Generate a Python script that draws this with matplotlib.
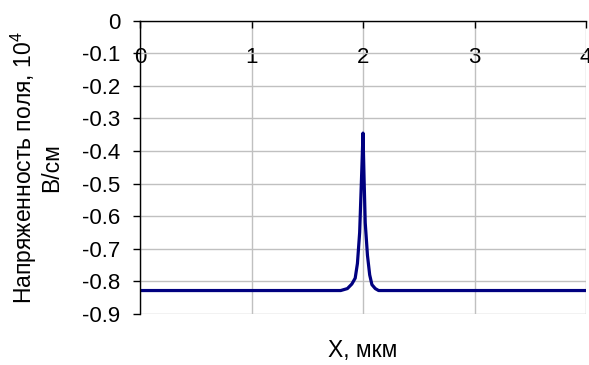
import matplotlib
matplotlib.use("Agg")
import matplotlib.pyplot as plt

plt.rcParams['font.family'] = ['Liberation Sans', 'DejaVu Sans']
plt.rcParams['mathtext.fontset'] = 'custom'
plt.rcParams['mathtext.rm'] = 'Liberation Sans'
plt.rcParams['mathtext.it'] = 'Liberation Sans'

# Data
x_um = [0.0, 1.80, 1.86, 1.90, 1.93, 1.95, 1.97, 1.98, 1.99, 2.00,
        2.01, 2.02, 2.04, 2.06, 2.08, 2.11, 2.14, 4.0]
field = [-0.828, -0.828, -0.822, -0.808, -0.79, -0.745, -0.65, -0.55, -0.45, -0.345,
         -0.49, -0.62, -0.72, -0.78, -0.81, -0.822, -0.828, -0.828]
x_ticks = [0, 1, 2, 3, 4]
y_ticks = [0, -0.1, -0.2, -0.3, -0.4, -0.5, -0.6, -0.7, -0.8, -0.9]
y_tick_labels = ['0', '-0.1', '-0.2', '-0.3', '-0.4', '-0.5', '-0.6', '-0.7', '-0.8', '-0.9']

W, H = 589, 365
fig = plt.figure(figsize=(W / 100, H / 100), dpi=100)
left, right, top, bottom = 140, 586, 20.7, 314
ax = fig.add_axes([left / W, 1 - bottom / H, (right - left) / W, (bottom - top) / H])

ax.plot(x_um, field, color='#000080', linewidth=2.3, zorder=3)

ax.set_xlim(0, 4)
ax.set_ylim(-0.9, 0)
ax.set_xticks(x_ticks)
ax.set_xticklabels([str(t) for t in x_ticks])
ax.set_yticks(y_ticks)
ax.set_yticklabels(y_tick_labels)

ax.grid(True, color='#c0c0c0', linewidth=1.0, zorder=0)
ax.set_axisbelow(True)

for s in ['right', 'bottom']:
    ax.spines[s].set_visible(False)
for s in ['top', 'left']:
    ax.spines[s].set_color('black')
    ax.spines[s].set_linewidth(1.0)
    ax.spines[s].set_zorder(4)

ax.tick_params(axis='x', which='both', top=True, bottom=False, labeltop=True, labelbottom=False,
               direction='in', length=5, width=1, pad=-34, labelsize=16)
ax.tick_params(axis='y', direction='out', length=5, width=1, pad=9, labelsize=16)

ax.set_ylabel('Напряженность поля, 10$^4$\nВ/см', fontsize=16.5, linespacing=1.05)
ax.yaxis.set_label_coords(-0.172, 0.5)
ax.set_xlabel('X, мкм', fontsize=16.5)
ax.xaxis.set_label_position('bottom')
ax.xaxis.set_label_coords(0.5, -0.085)

fig.savefig('out.png', dpi=100)
